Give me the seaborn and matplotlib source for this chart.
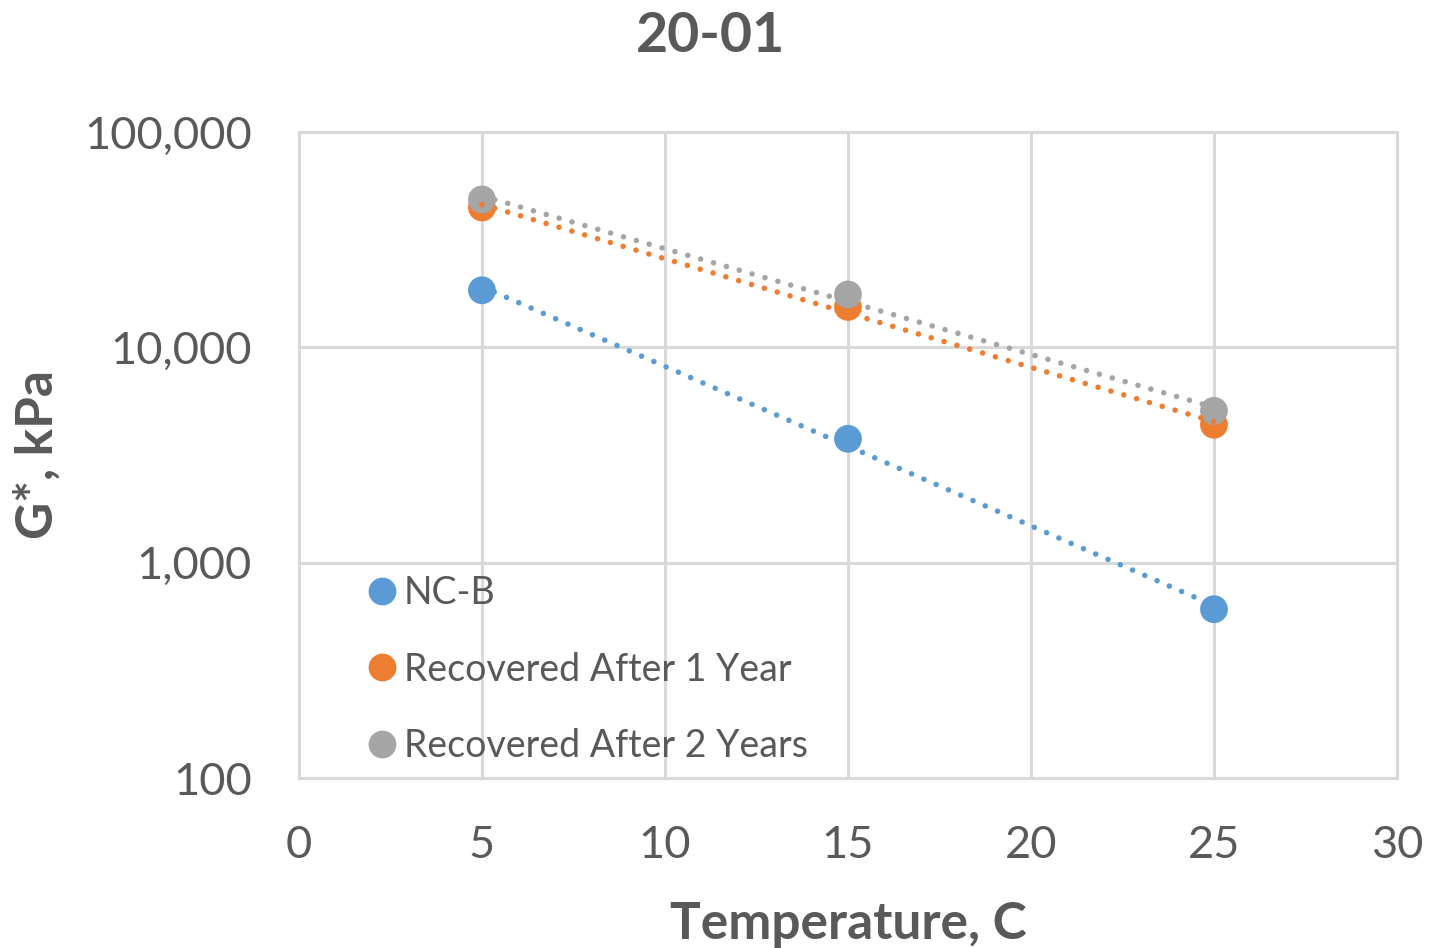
import numpy as np
import pandas as pd
import matplotlib
matplotlib.use("Agg")
import matplotlib.pyplot as plt
import seaborn as sns
from matplotlib.ticker import FuncFormatter

# values
temps = [5, 15, 25]
nc_b = [18400, 3760, 608]
rec_1yr = [44600, 15400, 4370]
rec_2yr = [48600, 17600, 5070]
series_names = ["NC-B", "Recovered After 1 Year", "Recovered After 2 Years"]
colors = ["#5B9BD5", "#ED7D31", "#A5A5A5"]

df = pd.DataFrame({
    "Temperature": temps * 3,
    "G": nc_b + rec_1yr + rec_2yr,
    "Series": [s for s in series_names for _ in temps],
})

sns.set_theme(style="white")
plt.rcParams["font.family"] = ["Lato", "DejaVu Sans"]
txt = "#595959"
grid_c = "#D9D9D9"

fig = plt.figure(figsize=(14.29, 9.48), dpi=100)
ax = fig.add_axes([0.2092, 0.1793, 0.7684, 0.6815])

sns.scatterplot(data=df, x="Temperature", y="G", hue="Series", palette=colors,
                s=400, edgecolor="none", ax=ax, zorder=3, legend=True)

# exponential trendlines (dotted)
xs = np.linspace(5, 25, 100)
for vals, c in zip([nc_b, rec_1yr, rec_2yr], colors):
    k, b = np.polyfit(temps, np.log(vals), 1)
    ax.plot(xs, np.exp(b + k * xs), color=c, lw=4.0, linestyle=(0, (0.01, 2.4)),
            dash_capstyle="round", zorder=4)

ax.set_yscale("log")
ax.set_ylim(100, 100000)
ax.set_xlim(0, 30)
ax.set_xticks(range(0, 31, 5))
ax.set_yticks([100, 1000, 10000, 100000])
ax.yaxis.set_major_formatter(FuncFormatter(lambda v, p: f"{int(v):,}"))
ax.minorticks_off()
ax.grid(True, color=grid_c, lw=2.2)
ax.set_axisbelow(True)
for sp in ax.spines.values():
    sp.set_color(grid_c)
    sp.set_linewidth(2.2)
ax.tick_params(axis="both", length=0, labelsize=32.5, colors=txt)
ax.tick_params(axis="y", pad=34)
ax.tick_params(axis="x", pad=34)

ax.set_xlabel("Temperature, C", fontsize=37, fontweight="bold", color=txt, labelpad=25)
ax.set_ylabel("G*, kPa", fontsize=37, fontweight="bold", color=txt, labelpad=16)
fig.suptitle("20-01", x=0.497, y=0.988, fontsize=40, fontweight="bold", color=txt)

leg = ax.legend(loc="lower left", bbox_to_anchor=(0.025, -0.03), frameon=False,
                fontsize=27, labelspacing=1.07, handletextpad=0.0,
                markerscale=1.0, handlelength=1.17, title=None)
for t in leg.get_texts():
    t.set_color(txt)

fig.savefig("out.png", dpi=100)
